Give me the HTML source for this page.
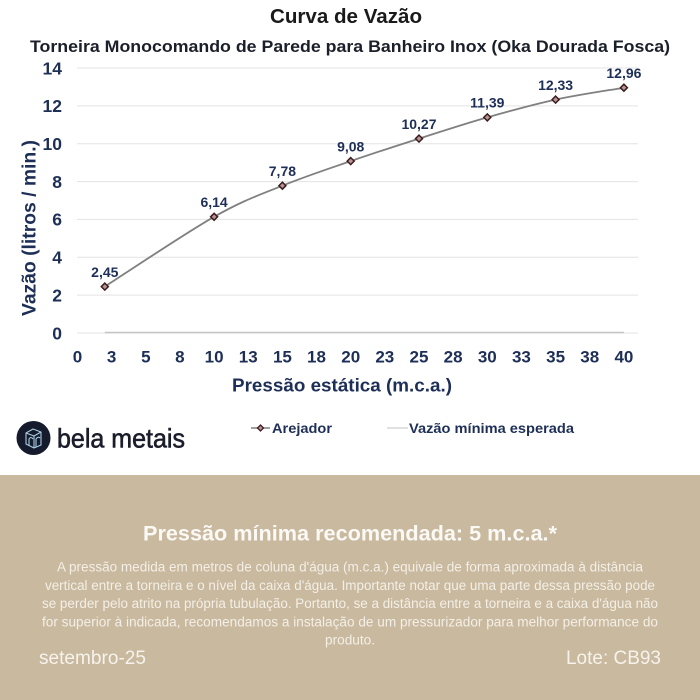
<!DOCTYPE html>
<html><head><meta charset="utf-8"><style>
html,body{margin:0;padding:0;background:#fff;}
svg{display:block;}
text{font-family:"Liberation Sans",Arial,sans-serif;}
</style></head><body>
<svg width="700" height="700" viewBox="0 0 700 700" xmlns="http://www.w3.org/2000/svg">
<rect x="0" y="0" width="700" height="700" fill="#ffffff"/>
<!-- titles -->
<text x="270" y="23" font-size="20" font-weight="bold" fill="#1a1a1a" textLength="152" lengthAdjust="spacingAndGlyphs">Curva de Vazão</text>
<text x="30" y="52" font-size="16.5" font-weight="bold" fill="#1b1f2a" textLength="640" lengthAdjust="spacingAndGlyphs">Torneira Monocomando de Parede para Banheiro Inox (Oka Dourada Fosca)</text>

<!-- gridlines -->
<g stroke="#e3e3e3" stroke-width="1">
<line x1="77" y1="68" x2="638" y2="68"/>
<line x1="77" y1="105.9" x2="638" y2="105.9"/>
<line x1="77" y1="143.7" x2="638" y2="143.7"/>
<line x1="77" y1="181.6" x2="638" y2="181.6"/>
<line x1="77" y1="219.4" x2="638" y2="219.4"/>
<line x1="77" y1="257.3" x2="638" y2="257.3"/>
<line x1="77" y1="295.1" x2="638" y2="295.1"/>
<line x1="77" y1="333" x2="638" y2="333"/>
</g>
<!-- minimum series -->
<line x1="104.8" y1="332.5" x2="623.9" y2="332.5" stroke="#c4c4c4" stroke-width="1.5"/>

<!-- y tick labels -->
<g font-size="17.5" font-weight="bold" fill="#1e2f57" text-anchor="end">
<text x="62" y="74.5">14</text>
<text x="62" y="112.2">12</text>
<text x="62" y="150">10</text>
<text x="62" y="187.9">8</text>
<text x="62" y="225.7">6</text>
<text x="62" y="263.6">4</text>
<text x="62" y="301.4">2</text>
<text x="62" y="339.3">0</text>
</g>
<!-- x tick labels -->
<g font-size="17" font-weight="bold" fill="#1e2f57" text-anchor="middle">
<text x="77.5" y="362.5">0</text>
<text x="111.6" y="362.5">3</text>
<text x="145.8" y="362.5">5</text>
<text x="179.9" y="362.5">8</text>
<text x="214.1" y="362.5">10</text>
<text x="248.2" y="362.5">13</text>
<text x="282.4" y="362.5">15</text>
<text x="316.5" y="362.5">18</text>
<text x="350.7" y="362.5">20</text>
<text x="384.8" y="362.5">23</text>
<text x="419" y="362.5">25</text>
<text x="453.1" y="362.5">28</text>
<text x="487.3" y="362.5">30</text>
<text x="521.4" y="362.5">33</text>
<text x="555.6" y="362.5">35</text>
<text x="589.7" y="362.5">38</text>
<text x="623.9" y="362.5">40</text>
</g>
<!-- axis titles -->
<text x="232" y="391.5" font-size="18" font-weight="bold" fill="#1e2f57" textLength="220" lengthAdjust="spacingAndGlyphs">Pressão estática (m.c.a.)</text>
<text transform="translate(35.5,228) rotate(-90)" x="0" y="0" text-anchor="middle" font-size="19" font-weight="bold" fill="#1e2f57" textLength="176" lengthAdjust="spacingAndGlyphs">Vazão (litros / min.)</text>

<!-- curve -->
<path d="M104.8,286.6 C123.0,275.0 184.5,233.6 214.1,216.8 C243.7,200.0 259.6,195.0 282.4,185.7 C305.2,176.4 327.9,169.0 350.7,161.1 C373.5,153.3 396.2,145.9 419.0,138.6 C441.8,131.3 464.5,123.9 487.3,117.4 C510.1,110.9 532.8,104.6 555.6,99.6 C578.4,94.65 612.5,89.7 623.9,87.7" fill="none" stroke="#808080" stroke-width="1.8"/>
<!-- markers -->
<g fill="#b89494" stroke="#3a1b1e" stroke-width="1.5">
<path d="M104.8,283.1 L108.3,286.6 L104.8,290.1 L101.3,286.6 Z"/>
<path d="M214.1,213.3 L217.6,216.8 L214.1,220.3 L210.6,216.8 Z"/>
<path d="M282.4,182.2 L285.9,185.7 L282.4,189.2 L278.9,185.7 Z"/>
<path d="M350.7,157.6 L354.2,161.1 L350.7,164.6 L347.2,161.1 Z"/>
<path d="M419,135.1 L422.5,138.6 L419,142.1 L415.5,138.6 Z"/>
<path d="M487.3,113.9 L490.8,117.4 L487.3,120.9 L483.8,117.4 Z"/>
<path d="M555.6,96.1 L559.1,99.6 L555.6,103.1 L552.1,99.6 Z"/>
<path d="M623.9,84.2 L627.4,87.7 L623.9,91.2 L620.4,87.7 Z"/>
</g>
<!-- data labels -->
<g font-size="14" font-weight="bold" fill="#1e2f57" text-anchor="middle">
<text x="104.8" y="276.8">2,45</text>
<text x="214.1" y="207">6,14</text>
<text x="282.4" y="175.9">7,78</text>
<text x="350.7" y="151.3">9,08</text>
<text x="419" y="128.8">10,27</text>
<text x="487.3" y="107.6">11,39</text>
<text x="555.6" y="89.8">12,33</text>
<text x="623.9" y="77.9">12,96</text>
</g>

<!-- legend -->
<line x1="251" y1="428" x2="270" y2="428" stroke="#808080" stroke-width="1.6"/>
<path d="M260.5,425 L263.5,428 L260.5,431 L257.5,428 Z" fill="#b89494" stroke="#3a1b1e" stroke-width="1.3"/>
<text x="272" y="433" font-size="14" font-weight="bold" fill="#1e2f57" textLength="60" lengthAdjust="spacingAndGlyphs">Arejador</text>
<line x1="387" y1="428" x2="408" y2="428" stroke="#cfcfcf" stroke-width="1.3"/>
<text x="409" y="433" font-size="14" font-weight="bold" fill="#1e2f57" textLength="165" lengthAdjust="spacingAndGlyphs">Vazão mínima esperada</text>

<!-- logo -->
<circle cx="33.5" cy="438" r="17" fill="#151b2d"/>
<g fill="none" stroke="#a9cde3" stroke-width="1.1" stroke-linejoin="round">
<path d="M26,433 L33,429 L41,432 L41,445 L34,448 L26,444 Z"/>
<path d="M26,433 L34,436 L41,432"/>
<path d="M34,436 L34,448"/>
<path d="M29,446 L29,439 Q31,436 33,439"/>
<path d="M36,447 L36,439 Q38,436 40,438"/>
</g>
<text x="57" y="447.5" font-size="26.5" fill="#1b1d2b" stroke="#1b1d2b" stroke-width="0.6" textLength="128" lengthAdjust="spacingAndGlyphs">bela metais</text>

<!-- beige box -->
<rect x="0" y="475" width="700" height="225" fill="#c8b99f"/>
<text x="143" y="540.5" font-size="21.5" font-weight="bold" fill="#fbf9f5" textLength="414" lengthAdjust="spacingAndGlyphs">Pressão mínima recomendada: 5 m.c.a.*</text>
<g font-size="13.5" fill="#f4efe6">
<text x="57" y="571.5" textLength="586" lengthAdjust="spacingAndGlyphs">A pressão medida em metros de coluna d'água (m.c.a.) equivale de forma aproximada à distância</text>
<text x="45" y="589.8" textLength="610" lengthAdjust="spacingAndGlyphs">vertical entre a torneira e o nível da caixa d'água. Importante notar que uma parte dessa pressão pode</text>
<text x="42" y="608" textLength="616" lengthAdjust="spacingAndGlyphs">se perder pelo atrito na própria tubulação. Portanto, se a distância entre a torneira e a caixa d'água não</text>
<text x="42" y="626.3" textLength="616" lengthAdjust="spacingAndGlyphs">for superior à indicada, recomendamos a instalação de um pressurizador para melhor performance do</text>
<text x="325" y="644.6" textLength="50" lengthAdjust="spacingAndGlyphs">produto.</text>
</g>
<text x="39" y="664" font-size="19" fill="#f7f3ec" textLength="107" lengthAdjust="spacingAndGlyphs">setembro-25</text>
<text x="566" y="664" font-size="19" fill="#f7f3ec" textLength="95" lengthAdjust="spacingAndGlyphs">Lote: CB93</text>
</svg>
</body></html>
